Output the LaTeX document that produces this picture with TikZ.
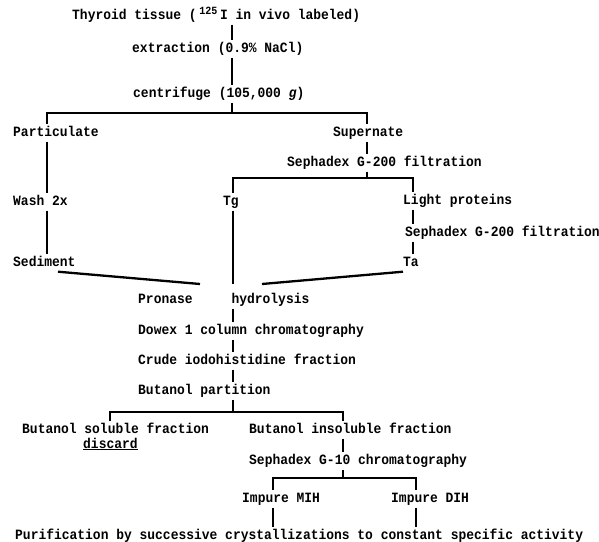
\documentclass[tikz,border=0pt]{standalone}
\usepackage{fontspec}
\setmonofont[FakeStretch=0.913]{Liberation Mono}
\begin{document}
\begin{tikzpicture}[x=1pt,y=-1pt,
  lbl/.style={anchor=base west, inner xsep=0pt, inner ysep=3pt, text height=9pt, text depth=2.5pt,
    font=\fontsize{14.2}{15}\selectfont\ttfamily\bfseries},
  conn/.style={line width=2.3pt}]
\useasboundingbox (0,0) rectangle (599,541);
% nodes (baseline = visual centre + 4)
\node[lbl] (thy) at (72,19) {Thyroid tissue (\makebox[23.34pt][c]{\raisebox{5pt}{\fontsize{11}{10}\selectfont 125}}I in vivo labeled)};
\node[lbl] (ext) at (132,52) {extraction (0.9\% NaCl)};
\node[lbl] (cen) at (133,97) {centrifuge (105,000 \textit{g})};
\node[lbl] (par) at (13,136) {Particulate};
\node[lbl] (sup) at (333,136) {Supernate};
\node[lbl] (sep1) at (287,166) {Sephadex G-200 filtration};
\node[lbl] (wash) at (13,205) {Wash 2x};
\node[lbl] (tg) at (223,205) {Tg};
\node[lbl] (lp) at (403,204) {Light proteins};
\node[lbl] (sep2) at (405,236) {Sephadex G-200 filtration};
\node[lbl] (sed) at (13,266) {Sediment};
\node[lbl] (ta) at (403,266) {Ta};
\node[lbl] (pron) at (138,303) {Pronase~~~~~hydrolysis};
\node[lbl] (dowex) at (138,334) {Dowex 1 column chromatography};
\node[lbl] (crude) at (138,364) {Crude iodohistidine fraction};
\node[lbl] (bp) at (138,394) {Butanol partition};
\node[lbl] (bs) at (22,433) {Butanol soluble fraction};
\node[lbl] (bi) at (249,433) {Butanol insoluble fraction};
\node[lbl] (disc) at (83,448) {\underline{discard}};
\node[lbl] (sg10) at (249,464) {Sephadex G-10 chromatography};
\node[lbl] (mih) at (242,502) {Impure MIH};
\node[lbl] (dih) at (391,502) {Impure DIH};
\node[lbl] (pur) at (15,539) {Purification by successive crystallizations to constant specific activity};
% coordinates
\coordinate (t1) at (232,0);
\coordinate (b1) at (232,113);
\coordinate (px) at (47,0);
\coordinate (sx) at (367,0);
\coordinate (b2) at (367,178);
\coordinate (tgx) at (233,0);
\coordinate (lpx) at (413,0);
\coordinate (hub) at (233,284);
\coordinate (hubL) at (200,284);
\coordinate (hubR) at (262,284);
\coordinate (b3) at (233,412);
\coordinate (bsx) at (110,0);
\coordinate (bix) at (343,0);
\coordinate (b4) at (343,478);
\coordinate (mihx) at (273,0);
\coordinate (dihx) at (416,0);
% connectors
\draw[conn] (thy.south -| t1) -- (ext.north -| t1);
\draw[conn] (ext.south -| t1) -- (cen.north -| t1);
\draw[conn] (cen.south -| t1) -- (b1);
\draw[conn] (par.north -| px) |- (b1) -| (sup.north -| sx);
\draw[conn] (par.south -| px) -- (wash.north -| px);
\draw[conn] (wash.south -| px) -- (sed.north -| px);
\draw[conn] (sup.south -| sx) -- (sep1.north -| sx);
\draw[conn] (sep1.south -| sx) -- (b2);
\draw[conn] (tg.north -| tgx) |- (b2) -| (lp.north -| lpx);
\draw[conn] (lp.south -| lpx) -- (sep2.north -| lpx);
\draw[conn] (sep2.south -| lpx) -- (ta.north -| lpx);
\draw[conn] (tg.south -| tgx) -- (hub);
\draw[conn] ([xshift=45pt]sed.south west) -- (hubL);
\draw[conn] (ta.south west) -- (hubR);
\draw[conn] (pron.south -| tgx) -- (dowex.north -| tgx);
\draw[conn] (dowex.south -| tgx) -- (crude.north -| tgx);
\draw[conn] (crude.south -| tgx) -- (bp.north -| tgx);
\draw[conn] (bp.south -| tgx) -- (b3);
\draw[conn] (bs.north -| bsx) |- (b3) -| (bi.north -| bix);
\draw[conn] (bi.south -| bix) -- (sg10.north -| bix);
\draw[conn] (sg10.south -| bix) -- (b4);
\draw[conn] (mih.north -| mihx) |- (b4) -| (dih.north -| dihx);
\draw[conn] (mih.south -| mihx) -- (pur.north -| mihx);
\draw[conn] (dih.south -| dihx) -- (pur.north -| dihx);
\end{tikzpicture}
\end{document}
